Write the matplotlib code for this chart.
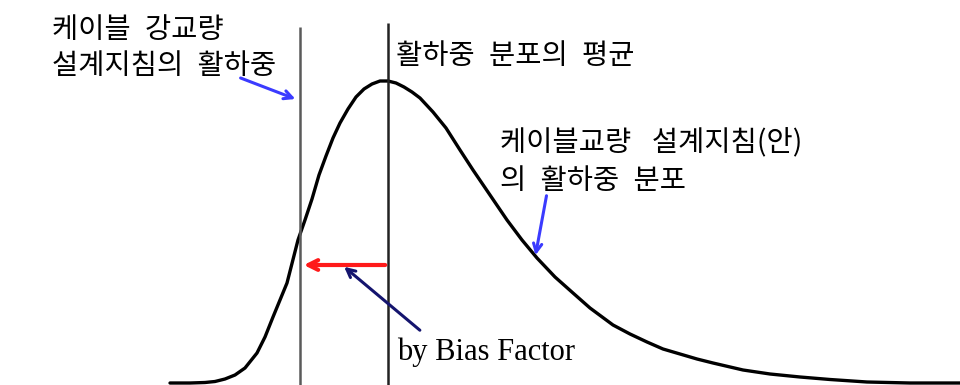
import matplotlib
matplotlib.use("Agg")
import matplotlib.pyplot as plt
import numpy as np

plt.rcParams['font.family'] = ['Noto Sans CJK KR', 'DejaVu Sans']

# live load distribution curve (x, height above baseline)
curve_x = [170, 190, 205, 215, 225, 235, 245, 257, 265, 273, 280, 287, 298, 305,
           312, 319, 326, 333, 340, 348, 356, 364, 372, 380, 388, 396, 404, 412,
           420, 433, 446, 460, 473, 490, 507, 522, 537, 555, 573, 590, 613, 630,
           647, 663, 680, 697, 713, 743, 770, 800, 830, 867, 910, 960]
curve_y = [2, 2, 2.5, 3.5, 6, 10, 17, 32, 48, 68, 85, 102, 145, 165,
           186, 210, 229, 247, 262, 276, 288, 296, 301, 304, 304, 302, 298, 293,
           287, 273, 257, 235, 215, 190, 165, 145, 127, 108, 92, 77, 60, 51,
           43, 36, 31, 26, 22, 15, 11, 8, 5.5, 3, 2, 2]

design_load = 300   # 설계지침 활하중
mean_load = 388     # 분포의 평균
bias_level = 120    # height of the bias factor arrow

fig = plt.figure(figsize=(9.6, 3.85), dpi=100)
ax = fig.add_axes([0, 0, 1, 1])
ax.set_xlim(0, 960)
ax.set_ylim(0, 385)
ax.axis('off')

ax.plot(curve_x, curve_y, color='black', lw=2.4, solid_capstyle='round',
        solid_joinstyle='round')

ax.vlines(design_load, 0, 358, color='#5a5a5a', lw=1.8)
ax.vlines(mean_load, 0, 362, color='#222222', lw=1.8)

# bias factor arrow from the mean to the design load
ax.annotate('', xy=(design_load + 1, bias_level), xytext=(mean_load, bias_level),
            arrowprops=dict(arrowstyle='->,head_length=0.7,head_width=0.35',
                            color='#ff1a1a', lw=3))

sp = '\u2002'  # wider word gap
kor = dict(fontsize=20.5, va='top', ha='left', weight='medium')
ax.text(52, 370, f'케이블{sp}강교량\n설계지침의{sp}활하중', linespacing=1.25, **kor)
ax.text(396, 344, f'활하중{sp}분포의{sp}평균', **kor)
ax.text(500, 257, f'케이블교량{sp} 설계지침(안)\n의{sp}활하중{sp}분포',
        linespacing=1.33, **kor)
ax.text(397, 25, 'by Bias Factor', fontsize=22, va='baseline', ha='left',
        family='Liberation Serif')

ax.annotate('', xy=(298, 285), xytext=(238, 308),
            arrowprops=dict(arrowstyle='->,head_length=0.6,head_width=0.3',
                            color='#3b3bff', lw=2.2))
ax.annotate('', xy=(535, 127), xytext=(547, 192),
            arrowprops=dict(arrowstyle='->,head_length=0.6,head_width=0.3',
                            color='#3b3bff', lw=2.2))
ax.annotate('', xy=(342, 120), xytext=(422, 53),
            arrowprops=dict(arrowstyle='->,head_length=0.6,head_width=0.3',
                            color='#14146e', lw=2.2))

fig.savefig('out.png', dpi=100, facecolor='white')
